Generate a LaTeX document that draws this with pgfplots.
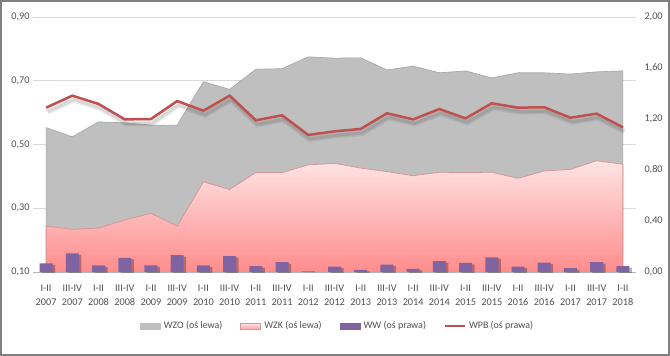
\documentclass[border=0pt]{standalone}
\usepackage{pgfplots}
\usepackage{pgfplotstable}
\pgfplotsset{compat=1.18}
\usepackage{fontspec}
\setmainfont{Carlito}
\definecolor{txt}{RGB}{80,80,80}
\definecolor{gridc}{RGB}{217,217,217}
\definecolor{wzo}{RGB}{191,191,191}
\definecolor{wzoedge}{RGB}{165,165,165}
\definecolor{wzkT}{RGB}{255,228,228}
\definecolor{wzkB}{RGB}{255,140,140}
\definecolor{wzkedge}{RGB}{215,150,150}
\definecolor{ww}{RGB}{128,100,162}
\definecolor{wpb}{RGB}{192,80,77}
\definecolor{framec}{RGB}{128,128,128}

\pgfplotstableread{
i wzo wzk ww wpb
0 0.553 0.244 0.068 1.289
1 0.524 0.234 0.146 1.383
2 0.571 0.238 0.052 1.318
3 0.568 0.263 0.110 1.197
4 0.561 0.284 0.052 1.200
5 0.561 0.244 0.133 1.341
6 0.697 0.383 0.052 1.265
7 0.673 0.359 0.125 1.383
8 0.736 0.412 0.047 1.190
9 0.738 0.412 0.078 1.229
10 0.775 0.436 0.005 1.075
11 0.771 0.441 0.042 1.103
12 0.772 0.426 0.016 1.122
13 0.734 0.415 0.057 1.245
14 0.746 0.402 0.024 1.197
15 0.725 0.413 0.086 1.278
16 0.731 0.412 0.071 1.205
17 0.709 0.413 0.115 1.323
18 0.725 0.394 0.042 1.289
19 0.725 0.417 0.073 1.292
20 0.721 0.422 0.031 1.210
21 0.728 0.449 0.078 1.242
22 0.731 0.438 0.047 1.135
}\data

\begin{document}
\begin{tikzpicture}[font=\fontsize{10.3}{12}\selectfont]
\pgfplotsset{
  numfmt/.style={/pgf/number format/fixed, /pgf/number format/fixed zerofill,
    /pgf/number format/precision=2, /pgf/number format/use comma,
    /pgf/number format/assume math mode=true},
}
\begin{axis}[
  at={(0bp,0bp)}, anchor=south west,
  scale only axis, width=603bp, height=255bp,
  xmin=-0.5, xmax=22.5, ymin=0.1, ymax=0.9,
  axis x line*=bottom, axis y line*=left,
  x axis line style={draw=gridc!80!black!90, line width=0.75bp, -},
  y axis line style={draw=none},
  major tick length=0pt,
  ytick={0.1,0.3,0.5,0.7,0.9},
  ymajorgrids, grid style={gridc, line width=0.75bp},
  yticklabel style={numfmt, text=txt, font=\fontsize{10.3}{12}\selectfont},
  xtick={0,...,22},
  xticklabels={{I-II\\2007},{III-IV\\2007},{I-II\\2008},{III-IV\\2008},{I-II\\2009},{III-IV\\2009},{I-II\\2010},{III-IV\\2010},{I-II\\2011},{III-IV\\2011},{I-II\\2012},{III-IV\\2012},{I-II\\2013},{III-IV\\2013},{I-II\\2014},{III-IV\\2014},{I-II\\2015},{III-IV\\2015},{I-II\\2016},{III-IV\\2016},{I-II\\2017},{III-IV\\2017},{I-II\\2018}},
  xticklabel style={align=center, text=txt, font=\fontsize{10.3}{14}\selectfont, yshift=-9.5bp},
]
\addplot[draw=wzoedge, line width=0.6bp, fill=wzo] table[x=i,y=wzo]{\data} \closedcycle;
\addplot[draw=wzkedge, line width=0.8bp, top color=wzkT, bottom color=wzkB] table[x=i,y=wzk]{\data} \closedcycle;
\end{axis}

\begin{axis}[
  at={(0bp,0bp)}, anchor=south west,
  scale only axis, width=603bp, height=255bp,
  xmin=-0.5, xmax=22.5, ymin=0, ymax=2.0,
  axis x line=none, axis y line*=right,
  y axis line style={draw=none},
  major tick length=0pt,
  ytick={0,0.4,0.8,1.2,1.6,2.0},
  yticklabel style={numfmt, text=txt, xshift=5bp, font=\fontsize{10.3}{12}\selectfont},
  legend style={at={(0.505,-0.212)}, anchor=center, draw=none, fill=none,
    legend columns=4, font=\fontsize{10}{12}\selectfont, text=txt,
    /tikz/every even column/.append style={column sep=16bp},
    /tikz/every odd column/.append style={column sep=1.5bp}},
  legend cell align=left,
]
\addlegendimage{legend image code/.code={\fill[wzo] (0bp,-2.8bp) rectangle (20bp,2.8bp);}}
\addlegendentry{WZO (oś lewa)}
\addlegendimage{legend image code/.code={\shade[top color=wzkT, bottom color=wzkB!80!white] (0bp,-2.8bp) rectangle (20bp,2.8bp); \draw[wzkedge, line width=0.4bp] (0bp,-2.8bp) rectangle (20bp,2.8bp);}}
\addlegendentry{WZK (oś lewa)}
\addlegendimage{legend image code/.code={\fill[ww] (0bp,-2.8bp) rectangle (20bp,2.8bp);}}
\addlegendentry{WW (oś prawa)}
\addlegendimage{legend image code/.code={\draw[wpb, line width=1.5bp] (0bp,0bp) -- (20bp,0bp);}}
\addlegendentry{WPB (oś prawa)}

\addplot[ybar, bar width=13bp, bar shift=0pt, fill=black, draw=none, opacity=0.28, xshift=2.5bp, yshift=-1.5bp, forget plot] table[x=i,y=ww]{\data};
\addplot[ybar, bar width=13bp, bar shift=0pt, fill=ww, draw=none, forget plot] table[x=i,y=ww]{\data};
\addplot[black, opacity=0.07, line width=6bp, xshift=1.5bp, yshift=-4bp, forget plot, no marks] table[x=i,y=wpb]{\data};
\addplot[black, opacity=0.09, line width=3bp, xshift=1.5bp, yshift=-4bp, forget plot, no marks] table[x=i,y=wpb]{\data};
\addplot[wpb, line width=2.5bp, forget plot, no marks] table[x=i,y=wpb]{\data};
\end{axis}

\pgfresetboundingbox
\path[use as bounding box] (-33bp,-84bp) rectangle (637bp,272bp);
\draw[framec, line width=2bp] (-32bp,-83bp) rectangle (636bp,271bp);
\end{tikzpicture}
\end{document}
